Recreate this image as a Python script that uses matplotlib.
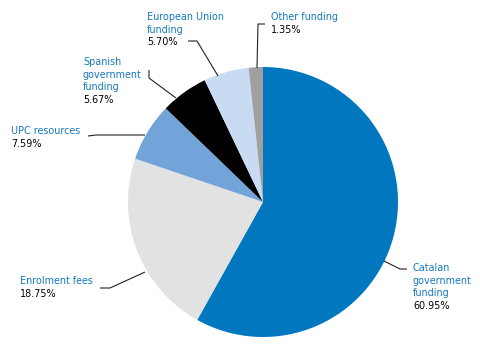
import matplotlib
matplotlib.use("Agg")
import matplotlib.pyplot as plt

# Data
categories = ["Catalan\ngovernment\nfunding", "Enrolment fees", "UPC resources",
              "Spanish\ngovernment\nfunding", "European Union\nfunding", "Other funding"]
# printed shares
pct_labels = ["60.95%", "18.75%", "7.59%", "5.67%", "5.70%", "1.35%"]
# slice sizes as drawn in the picture
slice_shares = [58.1, 22.1, 7.0, 5.7, 5.4, 1.7]
colors = ["#0077be", "#e2e2e2", "#72a3d9", "#000000", "#c8dbf3", "#a0a0a0"]

W, H = 481, 351
fig = plt.figure(figsize=(W / 100, H / 100), dpi=100)
ax = fig.add_axes([0, 0, 1, 1])

cx, cy, r = 263, H - 202, 135
ax.pie(slice_shares, colors=colors, startangle=90, counterclock=False,
       center=(cx, cy), radius=r, frame=True,
       wedgeprops=dict(linewidth=0))
ax.set_xlim(0, W)
ax.set_ylim(0, H)
ax.set_aspect("equal")
ax.axis("off")

def Y(y):
    return H - y

# label layout: (text x, first line y, leader polyline in pixel coords)
layout = [
    (413, 268, [(384, 261), (400, 269), (407, 269)]),
    (20, 281, [(145, 272), (110, 288), (100, 288)]),
    (11, 131, [(145, 135), (96, 135), (88, 136)]),
    (83, 62, [(176, 98), (149, 78), (149, 70)]),
    (147, 17, [(218, 76), (197, 41), (188, 41)]),
    (271, 17, [(257, 68), (258, 24), (265, 24)]),
]

blue = "#1479bd"
fs = 6.9
lh = 12.6
for cat, pct, (tx, ty, pts) in zip(categories, pct_labels, layout):
    lines = cat.split("\n")
    for i, ln in enumerate(lines):
        ax.text(tx, Y(ty + i * lh), ln, color=blue, fontsize=fs,
                ha="left", va="center", family="DejaVu Sans")
    ax.text(tx, Y(ty + len(lines) * lh), pct, color="#000000", fontsize=fs,
            ha="left", va="center", family="DejaVu Sans")
    xs = [p[0] for p in pts]
    ys = [Y(p[1]) for p in pts]
    ax.plot(xs, ys, color="#222222", lw=0.8, solid_capstyle="butt")

fig.savefig("out.png", dpi=100)
